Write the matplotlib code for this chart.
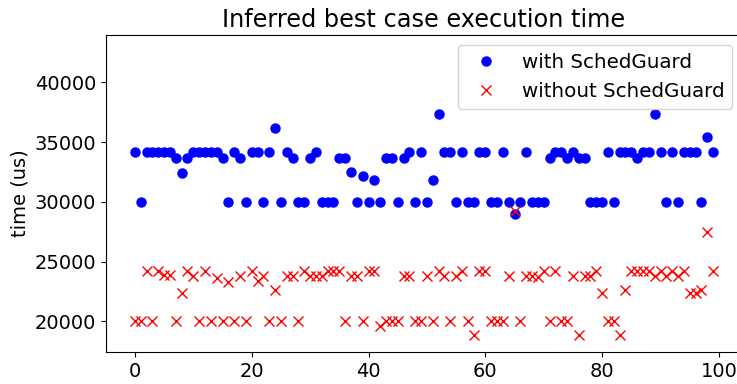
import matplotlib
matplotlib.use("Agg")
import matplotlib.pyplot as plt

with_sg = [34200, 30000, 34200, 34200, 34200, 34200, 34200, 33700, 32400, 33700,
           34200, 34200, 34200, 34200, 34200, 33700, 30000, 34200, 33700, 30000,
           34200, 34200, 30000, 34200, 36200, 30000, 34200, 33700, 30000, 30000,
           33700, 34200, 30000, 30000, 30000, 33700, 33700, 32500, 30000, 32200,
           30000, 31800, 30000, 33700, 33700, 30000, 33700, 34200, 30000, 34200,
           30000, 31800, 37350, 34200, 34200, 30000, 34200, 30000, 30000, 34200,
           34200, 30000, 30000, 34200, 30000, 29000, 30000, 34200, 30000, 30000,
           30000, 33700, 34200, 34200, 33700, 34200, 33700, 33700, 30000, 30000,
           30000, 34200, 30000, 34200, 34200, 34200, 33700, 34200, 34200, 37350,
           34200, 30000, 34200, 30000, 34200, 34200, 34200, 30000, 35400, 34200]

without_sg = [20000, 20000, 24200, 20000, 24200, 23900, 23900, 20000, 22400, 24200,
              23800, 20000, 24200, 20000, 23600, 20000, 23300, 20000, 23800, 20000,
              24200, 23400, 23800, 20000, 22600, 20000, 23800, 23800, 20000, 24200,
              23800, 23800, 23800, 24200, 24200, 24200, 20000, 23800, 23800, 20000,
              24200, 24200, 19600, 20000, 20000, 20000, 23800, 23800, 20000, 20000,
              23800, 20000, 24200, 23800, 20000, 23800, 24200, 20000, 18900, 24200,
              24200, 20000, 20000, 20000, 23800, 29200, 20000, 23800, 23800, 23700,
              24200, 20000, 24200, 20000, 20000, 23800, 18900, 23800, 23800, 24200,
              22400, 20000, 20000, 18900, 22600, 24200, 24200, 24200, 24200, 23800,
              24200, 23800, 24200, 23800, 24200, 22400, 22400, 22600, 27500, 24200]

runs = list(range(len(with_sg)))
yticks = [20000, 25000, 30000, 35000, 40000]
xticks = [0, 20, 40, 60, 80, 100]

fig = plt.figure(figsize=(7.37, 3.84), dpi=100)
ax = fig.add_axes([106 / 737, 32 / 384, (742 - 106) / 737, (352 - 35) / 384])
ax.plot(runs, with_sg, 'o', color='blue', markersize=6.5, label='with SchedGuard')
ax.plot(runs, without_sg, 'x', color='red', markersize=6.5, label='without SchedGuard')
ax.set_xlim(-4.95, 103.95)
ax.set_ylim(17450, 43950)
ax.set_yticks(yticks)
ax.set_xticks(xticks)
ax.tick_params(labelsize=14)
ax.spines['right'].set_visible(False)
ax.set_ylabel('time (us)', fontsize=14)
ax.set_title('Inferred best case execution time', fontsize=17.3)
ax.legend(loc='upper right', fontsize=14.3)
fig.savefig('out.png', dpi=100)
